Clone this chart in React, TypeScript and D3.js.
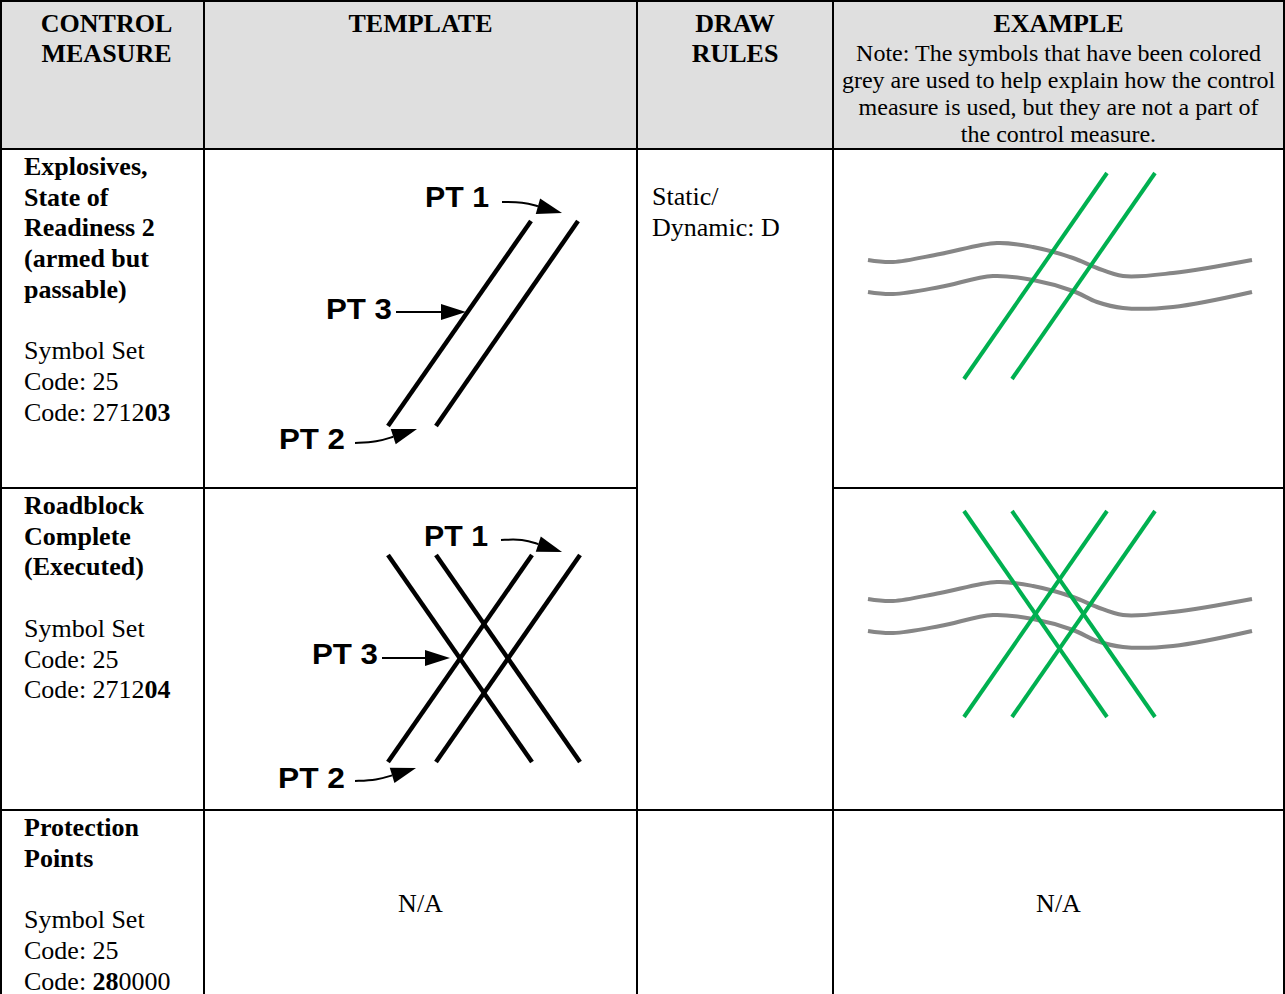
import React, { useEffect, useRef } from "react";
import * as d3 from "d3";

// column headers (line breaks as in the reference)
const headers = [["CONTROL", "MEASURE"], ["TEMPLATE"], ["DRAW", "RULES"], ["EXAMPLE"]];
const headerNote = [
  "Note: The symbols that have been colored",
  "grey are used to help explain how the control",
  "measure is used, but they are not a part of",
  "the control measure.",
];

// control measures, one entry per body row
const measureTitles = [
  ["Explosives,", "State of", "Readiness 2", "(armed but", "passable)"],
  ["Roadblock", "Complete", "(Executed)"],
  ["Protection", "Points"],
];
const symbolSets = ["25", "25", "25"];
// entity code pieces: [text, bold]
const entityCodes: [string, boolean][][] = [
  [["2712", false], ["03", true]],
  [["2712", false], ["04", true]],
  [["28", true], ["0000", false]],
];
const drawRules = ["Static/", "Dynamic: D"];
const naText = "N/A";

// template geometry, cell units (px from cell top-left)
type Seg = [[number, number], [number, number]];
const templateLines: Seg[][] = [
  [
    [[184, 277], [327, 72]],
    [[232, 277], [374, 72]],
  ],
  [
    [[184, 274], [328, 67]],
    [[232, 274], [376, 67]],
    [[184, 67], [328, 274]],
    [[232, 67], [376, 274]],
  ],
];
// PT labels: name, text x, baseline, width
const ptLabels: [string, number, number, number][][] = [
  [["PT 1", 221, 58, 64], ["PT 3", 122, 170, 66], ["PT 2", 75, 300, 66]],
  [["PT 1", 220, 58, 64], ["PT 3", 108, 176, 66], ["PT 2", 74, 300, 67]],
];
const ptArrows: [number, number][][][] = [
  [
    [[298, 53], [319, 53], [358, 64]],
    [[192, 163], [262, 163]],
    [[151, 294], [173, 293], [213, 280]],
  ],
  [
    [[297, 52], [319, 51], [358, 64]],
    [[178, 170], [246, 170]],
    [[151, 293], [173, 292], [212, 280]],
  ],
];

// example geometry, cell units
const roadUpper: [number, number][] = [
  [35, 111], [60, 113], [107, 105], [164, 94], [200, 98],
  [240, 109], [264, 119], [290, 127], [340, 124], [419, 111],
];
const roadLower: [number, number][] = [
  [35, 143], [60, 145], [107, 138], [160, 127], [200, 131],
  [240, 142], [264, 153], [290, 159], [340, 158], [419, 143],
];
const exampleLines: Seg[][] = [
  [
    [[131, 230], [274, 24]],
    [[179, 230], [322, 24]],
  ],
  [
    [[131, 229], [274, 23]],
    [[179, 229], [322, 23]],
    [[131, 23], [274, 229]],
    [[179, 23], [322, 229]],
  ],
];

const W = 1285;
const H = 994;
const COLS = [1, 204, 637, 833, 1284];
const ROWS = [1, 149, 488, 810, 1000];
const SERIF = "'Liberation Serif', 'Times New Roman', serif";
const SANS = "'Liberation Sans', Arial, sans-serif";
const LINE = 30.7;

function cell(c: number, r: number) {
  const x = d3.scaleLinear().domain([0, COLS[c + 1] - COLS[c]]).range([COLS[c], COLS[c + 1]]);
  const y = d3.scaleLinear().domain([0, ROWS[r + 1] - ROWS[r]]).range([ROWS[r], ROWS[r + 1]]);
  return { x, y };
}

export default function App() {
  const ref = useRef<SVGSVGElement>(null);

  useEffect(() => {
    if (!ref.current) return;
    const svg = d3.select(ref.current);
    svg.selectAll("*").remove();

    // header background
    svg.append("rect")
      .attr("x", COLS[0]).attr("y", ROWS[0])
      .attr("width", COLS[4] - COLS[0]).attr("height", ROWS[1] - ROWS[0])
      .attr("fill", "#dfdfdf");

    // header text
    headers.forEach((lines, c) => {
      const { x, y } = cell(c, 0);
      const cx = c === 0 ? 106.5 : (COLS[c] + COLS[c + 1]) / 2;
      lines.forEach((t, i) => {
        svg.append("text")
          .attr("x", cx).attr("y", y(31 + i * 30))
          .attr("text-anchor", "middle")
          .attr("font-family", SERIF).attr("font-size", 26).attr("font-weight", "bold")
          .text(t);
      });
      if (c === 3) {
        headerNote.forEach((t, i) => {
          svg.append("text")
            .attr("x", x((COLS[4] - COLS[3]) / 2)).attr("y", y(60 + i * 27))
            .attr("text-anchor", "middle")
            .attr("font-family", SERIF).attr("font-size", 24)
            .text(t);
        });
      }
    });

    // column 1: control measure names and codes
    measureTitles.forEach((title, r) => {
      const { x, y } = cell(0, r + 1);
      const t = svg.append("text").attr("font-family", SERIF).attr("font-size", 26);
      const base = 26;
      title.forEach((s, i) => {
        t.append("tspan").attr("x", x(23)).attr("y", y(base + i * LINE))
          .attr("font-weight", "bold").text(s);
      });
      const k = title.length + 1;
      t.append("tspan").attr("x", x(23)).attr("y", y(base + k * LINE)).text("Symbol Set");
      t.append("tspan").attr("x", x(23)).attr("y", y(base + (k + 1) * LINE)).text("Code: " + symbolSets[r]);
      t.append("tspan").attr("x", x(23)).attr("y", y(base + (k + 2) * LINE)).text("Code: ");
      entityCodes[r].forEach(([s, b]) => {
        t.append("tspan").attr("font-weight", b ? "bold" : "normal").text(s);
      });
    });

    // draw rules (merged over rows 1-2)
    {
      const { x, y } = cell(2, 1);
      drawRules.forEach((s, i) => {
        svg.append("text")
          .attr("x", x(15)).attr("y", y(56 + i * LINE))
          .attr("font-family", SERIF).attr("font-size", 26)
          .text(s);
      });
    }

    // N/A cells
    [1, 3].forEach((c) => {
      const { x, y } = cell(c, 3);
      svg.append("text")
        .attr("x", x((COLS[c + 1] - COLS[c]) / 2)).attr("y", y(102))
        .attr("text-anchor", "middle")
        .attr("font-family", SERIF).attr("font-size", 26)
        .text(naText);
    });

    const line = d3.line<[number, number]>();
    const curved = d3.line<[number, number]>().curve(d3.curveBasis);

    // templates
    templateLines.forEach((segs, r) => {
      const { x, y } = cell(1, r + 1);
      const g = svg.append("g");
      g.selectAll("path.tl")
        .data(segs)
        .enter()
        .append("path")
        .attr("class", "tl")
        .attr("d", (s) => line(s.map(([a, b]) => [x(a), y(b)] as [number, number])))
        .attr("stroke", "#000").attr("stroke-width", 4.5).attr("fill", "none");

      ptLabels[r].forEach(([name, tx, ty, tw]) => {
        g.append("text")
          .attr("x", x(tx)).attr("y", y(ty))
          .attr("font-family", SANS).attr("font-size", 30).attr("font-weight", "bold")
          .attr("textLength", tw).attr("lengthAdjust", "spacingAndGlyphs")
          .text(name);
      });

      ptArrows[r].forEach((pts) => {
        const P = pts.map(([a, b]) => [x(a), y(b)] as [number, number]);
        const tip = P[P.length - 1];
        const prev = P[P.length - 2];
        const dx = tip[0] - prev[0];
        const dy = tip[1] - prev[1];
        const len = Math.hypot(dx, dy);
        const ux = dx / len;
        const uy = dy / len;
        const L = 25;
        const hw = 8;
        const b: [number, number] = [tip[0] - L * ux, tip[1] - L * uy];
        g.append("path")
          .attr("d", curved([...P.slice(0, -1), b]))
          .attr("stroke", "#000").attr("stroke-width", 2).attr("fill", "none");
        g.append("path")
          .attr("d", `M${tip[0]},${tip[1]}L${b[0] - hw * uy},${b[1] + hw * ux}L${b[0] + hw * uy},${b[1] - hw * ux}Z`)
          .attr("fill", "#000");
      });
    });

    // examples
    const road = d3.line<[number, number]>().curve(d3.curveCatmullRom.alpha(0.5));
    exampleLines.forEach((segs, r) => {
      const { x, y } = cell(3, r + 1);
      const g = svg.append("g");
      [roadUpper, roadLower].forEach((pts) => {
        g.append("path")
          .attr("d", road(pts.map(([a, b]) => [x(a), y(b)] as [number, number])))
          .attr("stroke", "#868686").attr("stroke-width", 4).attr("fill", "none");
      });
      g.selectAll("path.el")
        .data(segs)
        .enter()
        .append("path")
        .attr("class", "el")
        .attr("d", (s) => line(s.map(([a, b]) => [x(a), y(b)] as [number, number])))
        .attr("stroke", "#00b050").attr("stroke-width", 4).attr("fill", "none");
    });

    // grid lines
    const grid = svg.append("g").attr("stroke", "#000").attr("stroke-width", 2);
    COLS.forEach((cx) => {
      grid.append("line").attr("x1", cx).attr("x2", cx).attr("y1", ROWS[0]).attr("y2", H);
    });
    const hlines: [number, number, number][] = [
      [ROWS[0], COLS[0], COLS[4]],
      [ROWS[1], COLS[0], COLS[4]],
      [ROWS[2], COLS[0], COLS[2]],
      [ROWS[2], COLS[3], COLS[4]],
      [ROWS[3], COLS[0], COLS[4]],
    ];
    hlines.forEach(([hy, x1, x2]) => {
      grid.append("line").attr("x1", x1 - 1).attr("x2", x2 + 1).attr("y1", hy).attr("y2", hy);
    });
  }, []);

  return (
    <div style={{ position: "absolute", left: 0, top: 0 }}>
      <svg ref={ref} width={W} height={H} style={{ display: "block", background: "#fff" }} />
    </div>
  );
}
